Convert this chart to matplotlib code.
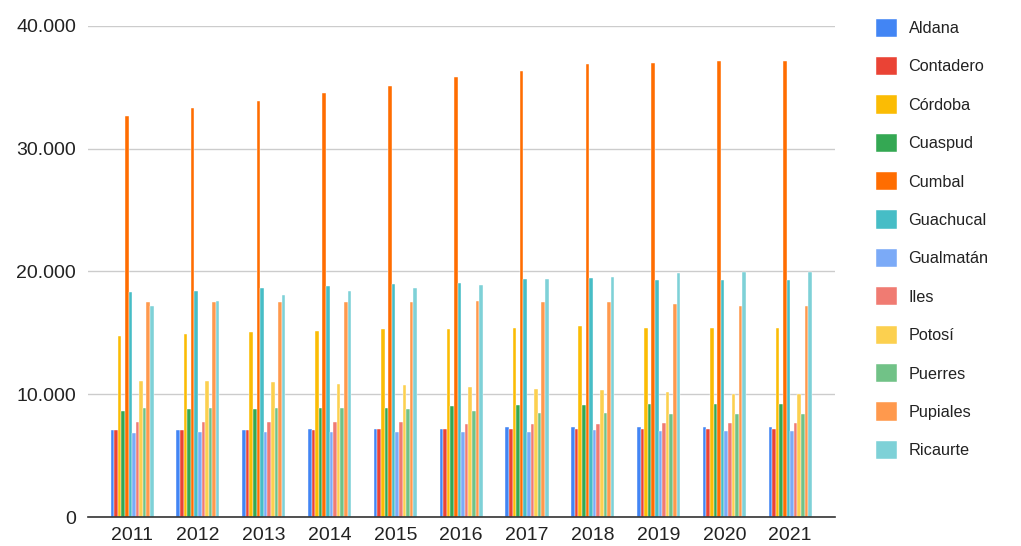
import matplotlib.pyplot as plt
import matplotlib.ticker as mticker
import numpy as np

plt.rcParams['font.family'] = ['Liberation Sans', 'DejaVu Sans']

years = ['2011', '2012', '2013', '2014', '2015', '2016', '2017', '2018', '2019', '2020', '2021']

aldana = [7090, 7090, 7100, 7180, 7180, 7180, 7320, 7320, 7350, 7350, 7350]
contadero = [7090, 7090, 7090, 7050, 7180, 7180, 7180, 7180, 7160, 7160, 7160]
cordoba = [14770, 14880, 15050, 15160, 15300, 15300, 15430, 15570, 15400, 15400, 15400]
cuaspud = [8640, 8770, 8770, 8900, 8900, 9040, 9140, 9140, 9180, 9180, 9180]
cumbal = [32670, 33290, 33900, 34510, 35150, 35810, 36330, 36870, 37010, 37120, 37120]
guachucal = [18300, 18410, 18680, 18810, 18970, 19080, 19350, 19490, 19320, 19320, 19320]
gualmatan = [6820, 6950, 6950, 6940, 6940, 6940, 6940, 7080, 7020, 7020, 7020]
iles = [7710, 7710, 7710, 7730, 7730, 7590, 7590, 7590, 7620, 7620, 7620]
potosi = [11080, 11080, 10970, 10860, 10730, 10560, 10450, 10320, 10180, 10020, 10020]
puerres = [8880, 8880, 8880, 8900, 8770, 8630, 8490, 8490, 8380, 8380, 8380]
pupiales = [17490, 17490, 17500, 17500, 17500, 17630, 17500, 17500, 17390, 17220, 17220]
ricaurte = [17220, 17620, 18100, 18450, 18690, 18940, 19350, 19590, 19870, 19950, 19950]

names = ['Aldana', 'Contadero', 'Córdoba', 'Cuaspud', 'Cumbal', 'Guachucal',
         'Gualmatán', 'Iles', 'Potosí', 'Puerres', 'Pupiales', 'Ricaurte']
series = [aldana, contadero, cordoba, cuaspud, cumbal, guachucal,
          gualmatan, iles, potosi, puerres, pupiales, ricaurte]
colors = ['#4285F4', '#EA4335', '#FBBC04', '#34A853', '#FF6D01', '#46BDC6',
          '#7BAAF7', '#F07B72', '#FCD04F', '#71C287', '#FF994D', '#7ED1D7']

fig = plt.figure(figsize=(10.21, 5.46), dpi=100)
ax = fig.add_axes([0.0862, 0.0531, 0.7316, 0.8993])

x = np.arange(len(years))
n = len(series)
w = 0.655 / n
for i, (name, vals, c) in enumerate(zip(names, series, colors)):
    ax.bar(x + (i - (n - 1) / 2) * w, vals, width=w, color=c, label=name,
           edgecolor='white', linewidth=0.3)

ax.set_xlim(-0.67, 10.68)
ax.set_ylim(0, 40000)
ax.set_yticks([0, 10000, 20000, 30000, 40000])
ax.yaxis.set_major_formatter(mticker.FuncFormatter(lambda v, p: f'{int(v):,}'.replace(',', '.')))
ax.set_xticks(x)
ax.set_xticklabels(years)
ax.grid(axis='y', color='#cccccc', linewidth=1)
ax.set_axisbelow(True)
for s in ['top', 'right', 'left']:
    ax.spines[s].set_visible(False)
ax.spines['bottom'].set_color('#333333')
ax.spines['bottom'].set_linewidth(1.2)
ax.tick_params(axis='both', length=0, labelsize=14, colors='#222222')
ax.tick_params(axis='y', pad=8.5)
ax.tick_params(axis='x', pad=7)

ax.legend(loc='upper left', bbox_to_anchor=(0.852, 0.978), bbox_transform=fig.transFigure,
          frameon=False, fontsize=11.7, handlelength=1.28, handleheight=1.35,
          handletextpad=0.7, labelspacing=1.24, borderaxespad=0, labelcolor='#222222')

fig.savefig('out.png', dpi=100)
